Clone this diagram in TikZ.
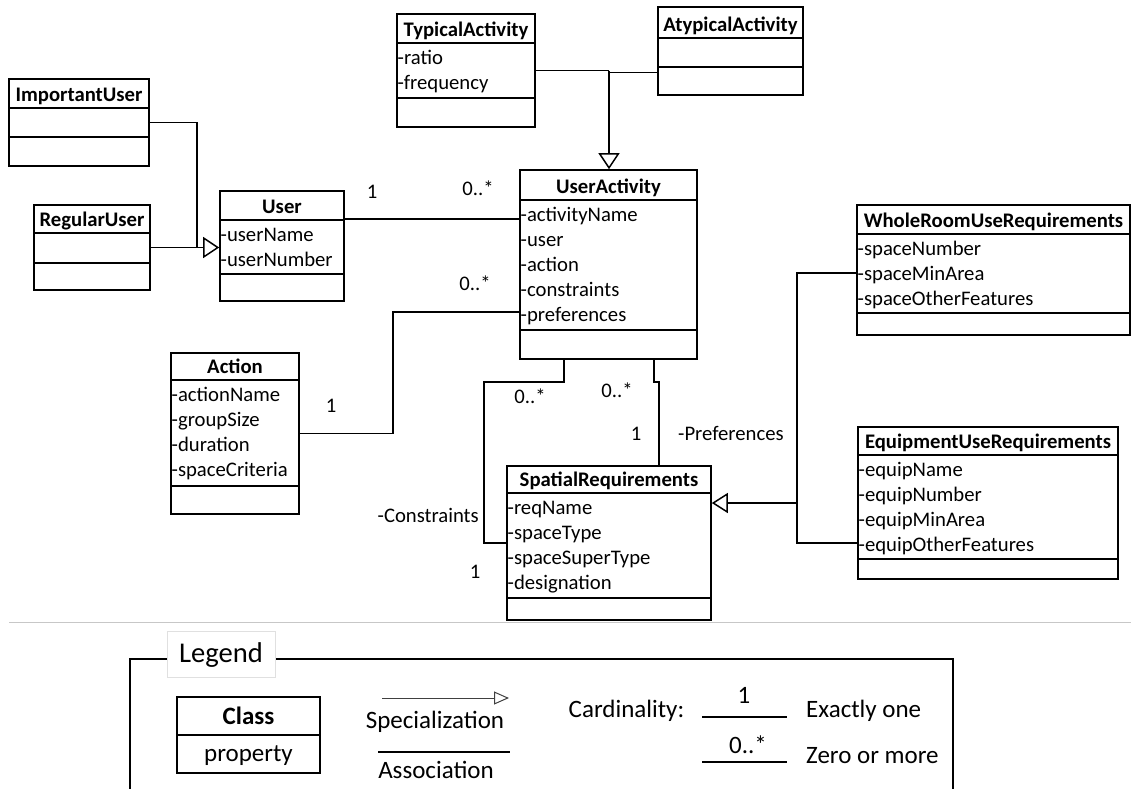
\documentclass[tikz,border=0pt]{standalone}
\usepackage{fontspec}
\setmainfont{Carlito}
\usetikzlibrary{arrows.meta,fit}

\newcommand\clsfont{\fontsize{20.7}{25}\selectfont}
\newcommand\legfont{\fontsize{25}{30}\selectfont}
\newcommand\legtitlefont{\fontsize{28.6}{34}\selectfont}

\tikzset{
  umlbox/.style={draw, line width=1.6pt, inner sep=0pt},
  umlrule/.style={line width=1.6pt},
  umltitle/.style={anchor=base, inner sep=0pt, font=\clsfont\bfseries},
  umlattr/.style={anchor=base west, inner sep=0pt, font=\clsfont},
  mult/.style={anchor=base, inner sep=0pt, font=\clsfont},
  assoc/.style={line width=1.5pt},
  genarrow/.style={line width=1.5pt, -{Triangle[open, length=16pt, width=21pt]}},
  legtext/.style={inner sep=0pt, font=\legfont},
}

% class box: name, left, top, right, bottom, first rule, second rule, title
\newcommand\umlclass[8]{%
  \node[umlbox, fit={(#2,#3) (#4,#5)}] (#1) {};
  \draw[umlrule] (#2,#6) -- (#4,#6) (#2,#7) -- (#4,#7);
  \node[umltitle] (#1-title) at ({(#2+#4)/2},{#6-7}) {#8};
}
% attribute rows: name, left, first rule, list of attributes
\newcommand\umlattrs[4]{%
  \foreach \txt [count=\k from 0] in {#4} {
    \node[umlattr] (#1-a\k) at ({#2+0.5},{#3+21+25*\k}) {\txt};
  }
}

\begin{document}
\begin{tikzpicture}[x=1pt,y=-1pt]
\useasboundingbox (0,0) rectangle (1131,788);

% ---------- classes ----------
\umlclass{iu}{9}{79}{149}{166}{108}{137}{ImportantUser}
\umlclass{ru}{34}{205}{150}{290}{233}{263}{RegularUser}
\umlclass{user}{220}{191}{344}{301}{220}{274}{User}
\umlattrs{user}{220}{220}{-userName,-userNumber}

\umlclass{ta}{397}{14}{535}{127}{43}{98}{TypicalActivity}
\umlattrs{ta}{397}{43}{-ratio,-frequency}
\umlclass{aa}{658}{7}{803}{95}{38}{67}{AtypicalActivity}

\umlclass{ua}{520}{170}{697}{359}{200}{330}{UserActivity}
\umlattrs{ua}{520}{200}{-activityName,-user,-action,-constraints,-preferences}

\umlclass{act}{171}{353}{299}{514}{380}{486}{Action}
\umlattrs{act}{171}{380}{-actionName,-groupSize,-duration,-spaceCriteria}

\umlclass{sr}{507}{466}{711}{620}{493}{598}{SpatialRequirements}
\umlattrs{sr}{507}{493}{-reqName,-spaceType,-spaceSuperType,-designation}

\umlclass{wr}{857}{205}{1130}{335}{234}{313}{WholeRoomUseRequirements}
\umlattrs{wr}{857}{234}{-spaceNumber,-spaceMinArea,-spaceOtherFeatures}

\umlclass{eq}{858}{427}{1118}{579}{455}{559}{EquipmentUseRequirements}
\umlattrs{eq}{858}{455}{-equipName,-equipNumber,-equipMinArea,-equipOtherFeatures}

% ---------- connector levels and bends ----------
\coordinate (ujoin) at (197,247.5);
\coordinate (lvUser) at (0,219);
\coordinate (tjoin) at (609,70.5);
\coordinate (lvAtyp) at (0,72.5);
\coordinate (lvPref) at (0,312);
\coordinate (abend) at (393,400);
\coordinate (cx) at (564,0);
\coordinate (cbend) at (484,382);
\coordinate (lvCon) at (0,543);
\coordinate (px) at (654,0);
\coordinate (pbend) at (659,382);
\coordinate (sjoin) at (797,503);
\coordinate (lvWr) at (0,273);
\coordinate (lvEq) at (0,543);

% specialisations
\draw[assoc] (iu.east) -| (ujoin);
\draw[genarrow] (ru.east) -- (user.west |- ru.east);
\draw[assoc] (ta.east) -- (tjoin);
\draw[assoc] (aa.west |- lvAtyp) -- (tjoin |- lvAtyp);
\draw[genarrow] (tjoin) -- (ua.north -| tjoin);
\draw[assoc] (wr.west |- lvWr) -| (sjoin) |- (eq.west |- lvEq);
\draw[genarrow, -{Triangle[open, length=16pt, width=20pt]}] (sjoin) -- (sr.east |- sjoin);

% associations
\draw[assoc] (user.east |- lvUser) -- (ua.west |- lvUser);
\draw[assoc] (ua.west |- lvPref) -| (abend) |- (act.east);
\draw[assoc] (ua.south -| cx) |- (cbend) |- (sr.west |- lvCon);
\draw[assoc] (ua.south -| px) |- (pbend) -- (sr.north -| pbend);

% multiplicities and role names
\node[mult] (m-user) at (372,198) {1};
\node[mult] (m-ua1) at (478,195) {0..*};
\node[mult] (m-ua2) at (475,290) {0..*};
\node[mult] (m-act) at (331,412) {1};
\node[mult] (m-con) at (530,403) {0..*};
\node[mult] (m-pref) at (617,397) {0..*};
\node[mult] (m-pref1) at (636,440) {1};
\node[umlattr] (r-pref) at (678,440) {-Preferences};
\node[mult, anchor=base east] (r-con) at (479,522) {-Constraints};
\node[mult] (m-con1) at (475,578) {1};

% ---------- separator and legend ----------
\draw[black!22, line width=1pt] (9,622) -- (1131,622);
\draw[line width=1.4pt] (130,792) -- (130,659) -- (953,659) -- (953,792);
\node[draw=black!12, line width=0.8pt, fill=white, minimum width=108pt, minimum height=46pt,
      inner sep=0pt, font=\legtitlefont] (legtitle) at (221,654) {};
\node[anchor=base, inner sep=0pt, font=\legtitlefont] (legword) at (221,662) {Legend};

\node[umlbox, fit={(177,697) (320,773)}] (legcls) {};
\draw[umlrule] (177,735) -- (320,735);
\node[legtext, anchor=base, font=\legfont\bfseries] (legcls-title) at (248.5,724) {Class};
\node[legtext, anchor=base] (legcls-prop) at (248.5,761) {property};

\coordinate (specA) at (382,698);
\coordinate (specB) at (509,698);
\draw[black!75, line width=1pt, -{Triangle[open, length=15pt, width=13pt]}] (specA) -- (specB);
\node[legtext, anchor=base] (legspec) at (435,728) {Specialization};
\coordinate (assA) at (378,752);
\coordinate (assB) at (510,752);
\draw[line width=1.2pt] (assA) -- (assB);
\node[legtext, anchor=base] (legass) at (436,778) {Association};

\node[legtext, anchor=base west] (legcard) at (568.5,717) {Cardinality:};
\coordinate (oneA) at (702,717);
\coordinate (oneB) at (786.5,717);
\draw[line width=1.2pt] (oneA) -- (oneB);
\node[legtext, anchor=base] (legone) at (744,703) {1};
\node[legtext, anchor=base west] (legonet) at (806,717) {Exactly one};
\coordinate (manyA) at (702,762);
\coordinate (manyB) at (786.5,762);
\draw[line width=1.2pt] (manyA) -- (manyB);
\node[legtext, anchor=base] (legmany) at (748,753) {0..*};
\node[legtext, anchor=base west] (legmanyt) at (806,763) {Zero or more};
\end{tikzpicture}
\end{document}
